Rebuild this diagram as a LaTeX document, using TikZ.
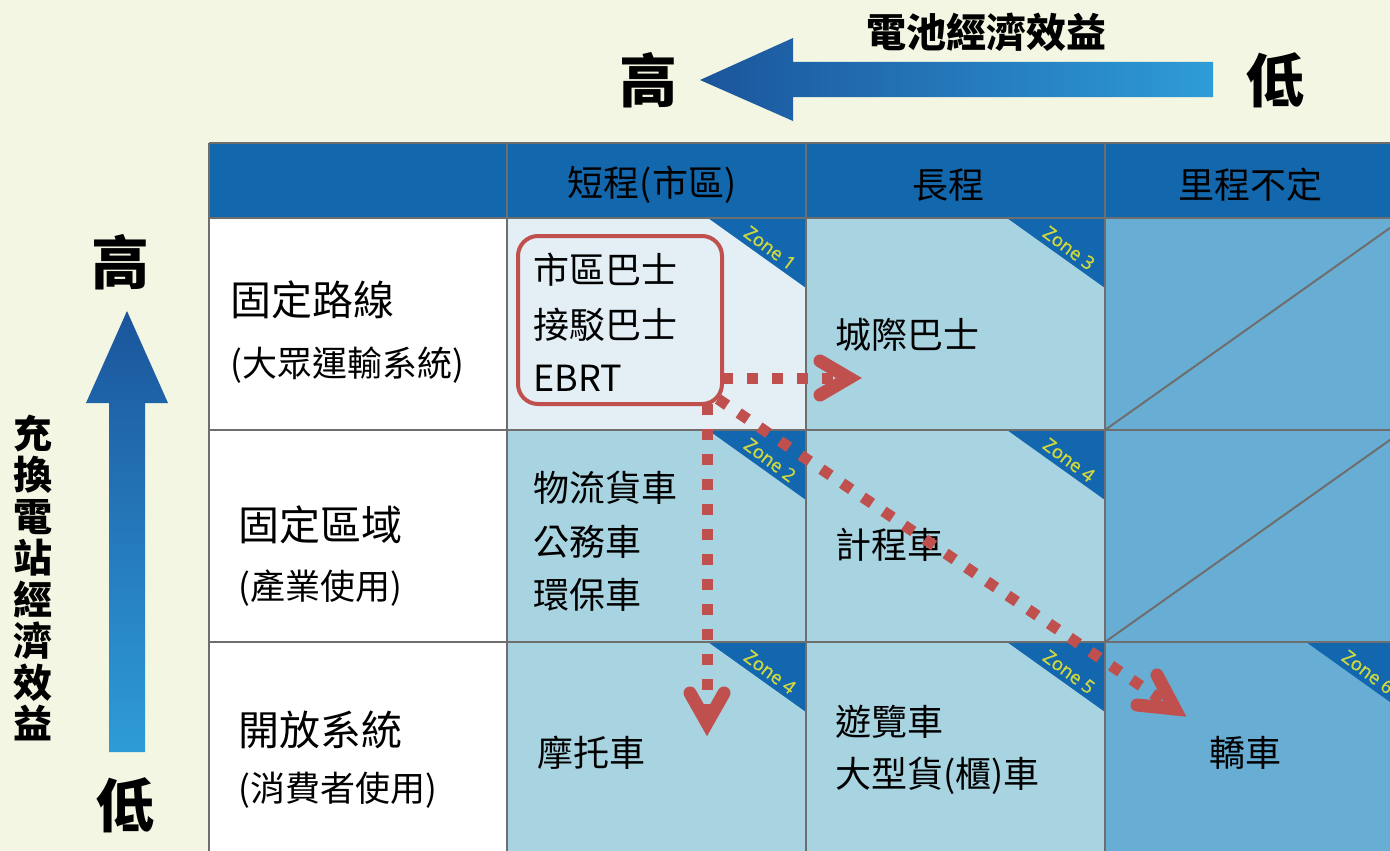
\documentclass[tikz,border=0pt]{standalone}
\usepackage{fontspec}
\setmainfont{Noto Sans CJK TC}
\newfontfamily\zonefont{Open Sans}[FakeBold=1.2]
\usetikzlibrary{calc}
\definecolor{bg}{HTML}{F3F6E3}
\definecolor{hdr}{HTML}{1367AC}
\definecolor{zblue}{HTML}{1367AE}
\definecolor{cz1}{HTML}{E3EEF5}
\definecolor{clight}{HTML}{A8D3E1}
\definecolor{cdark}{HTML}{68AED4}
\definecolor{gridc}{HTML}{6E6E6E}
\definecolor{redc}{HTML}{C0504D}
\definecolor{zonetext}{HTML}{CFD83E}
\definecolor{arrdark}{HTML}{1B559C}
\definecolor{arrlight}{HTML}{2E9CD7}
\newcommand\zonetri[3]{%
  \fill[zblue] (#1-98,#2) -- (#1,#2) -- (#1,#2+70) -- cycle;
  \node[zonelab] at (#1-36,#2+30) {#3};}
\begin{document}
\begin{tikzpicture}[x=1pt,y=-1pt,
  gridline/.style={draw=gridc,line width=2.5pt},
  diagline/.style={draw=gridc,line width=2pt},
  body/.style={font=\fontsize{36}{40}\selectfont, anchor=west, inner sep=0pt},
  rowlab/.style={font=\fontsize{41}{45}\selectfont, anchor=west, inner sep=0pt},
  rowsub/.style={font=\fontsize{35}{40}\selectfont, anchor=west, inner sep=0pt},
  head/.style={font=\fontsize{36}{40}\selectfont, inner sep=0pt},
  big/.style={font=\fontsize{58}{60}\selectfont\bfseries, inner sep=0pt},
  axis/.style={font=\fontsize{39}{41.5}\selectfont\bfseries, inner sep=0pt, align=center},
  zonelab/.style={font=\zonefont\fontsize{18.5}{18.5}\selectfont, text=zonetext, rotate=-37, inner sep=0pt},
  dotline/.style={draw=redc, line width=11pt, dash pattern=on 11pt off 14pt},
  chev/.style={draw=redc, line width=13pt, line cap=round, line join=miter},
  redbox/.style={draw=redc, line width=4pt, rounded corners=20pt, minimum width=204pt, minimum height=168pt},
]
\useasboundingbox (0,0) rectangle (1390,851);
\fill[bg] (0,0) rectangle (1390,851);
% cells
\fill[hdr] (209,143) rectangle (1390,218);
\fill[white] (209,218) rectangle (507,851);
\fill[cz1] (507,218) rectangle (806,430);
\fill[clight] (507,430) rectangle (1105,851);
\fill[clight] (806,218) rectangle (1105,430);
\fill[cdark] (1105,218) rectangle (1390,851);
% zone corners
\zonetri{806}{218}{Zone 1}
\zonetri{806}{430}{Zone 2}
\zonetri{1105}{218}{Zone 3}
\zonetri{1105}{430}{Zone 4}
\zonetri{806}{642}{Zone 4}
\zonetri{1105}{642}{Zone 5}
\zonetri{1404}{642}{Zone 6}
% grid
\foreach \y in {143,218,430,642} \draw[gridline] (209,\y) -- (1390,\y);
\foreach \x in {209,507,806,1105} \draw[gridline] (\x,143) -- (\x,851);
\draw[diagline] (1105,430) -- (1404,218);
\draw[diagline] (1105,642) -- (1404,430);
% header
\node[head] (h1) at (652,185) {短程(市區)};
\node[head] (h2) at (948,185) {長程};
\node[head] (h3) at (1250,185) {里程不定};
% row labels
\node[rowlab] (r1) at (230,300) {固定路線};
\node[rowsub] (r1s) at (230,365) {(大眾運輸系統)};
\node[rowlab] (r2) at (238,525) {固定區域};
\node[rowsub] (r2s) at (238,588) {(產業使用)};
\node[rowlab] (r3) at (238,730) {開放系統};
\node[rowsub] (r3s) at (238,790) {(消費者使用)};
% cell texts
\node[body] (c11a) at (533,270) {市區巴士};
\node[body] (c11b) at (533,325) {接駁巴士};
\node[body] (c11c) at (533,378) {EBRT};
\node[body] (c21a) at (533,488) {物流貨車};
\node[body] (c21b) at (533,542) {公務車};
\node[body] (c21c) at (533,595) {環保車};
\node[body] (c31) at (537,753) {摩托車};
\node[body] (c12) at (835,335) {城際巴士};
\node[body] (c22) at (835,545) {計程車};
\node[body] (c32a) at (835,722) {遊覽車};
\node[body] (c32b) at (835,776) {大型貨(櫃)車};
\node[head] (c33) at (1245,753) {轎車};
% red box
\node[redbox] (box) at (620,320) {};
% dotted arrows (apex of each chevron path; tip reaches ~14pt further)
\coordinate (a1s) at (722,378);
\coordinate (a1t) at (849,378);
\coordinate (a2s) at (707,404);
\coordinate (a2t) at (707,723);
\coordinate (a3s) at (718,399);
\coordinate (a3t) at (1175,709);
\draw[dotline] (a1s) -- ($(a1t)+(-14,0)$);
\draw[dotline] (a2s) -- ($(a2t)+(0,-14)$);
\draw[dotline] (a3s) -- ($(a3t)!16pt!(a3s)$);
\draw[chev] ($(a1t)+(-29,-17)$) -- (a1t) -- ($(a1t)+(-29,17)$);
\draw[chev] ($(a2t)+(-17,-30)$) -- (a2t) -- ($(a2t)+(17,-30)$);
\draw[chev] ($(a3t)+(-18,-34)$) -- (a3t) -- ($(a3t)+(-38,-4)$);
% axis arrows
\node[big] (hiT) at (648,80) {高};
\node[big] (loT) at (1275,80) {低};
\node[font=\fontsize{40}{42}\selectfont\bfseries, inner sep=0pt] (title) at (986,32) {電池經濟效益};
\shade[left color=arrdark, right color=arrlight] (700,80) -- (793,38) -- (793,62) -- (1213,62) -- (1213,97) -- (793,97) -- (793,121) -- cycle;
\node[big] (hiL) at (120,262) {高};
\node[big] (loL) at (125,805) {低};
\shade[top color=arrdark, bottom color=arrlight] (127,311) -- (168,403) -- (145,403) -- (145,752) -- (109,752) -- (109,403) -- (86,403) -- cycle;
\node[axis] (vlab) at (33,578) {充\\換\\電\\站\\經\\濟\\效\\益};
\end{tikzpicture}
\end{document}
